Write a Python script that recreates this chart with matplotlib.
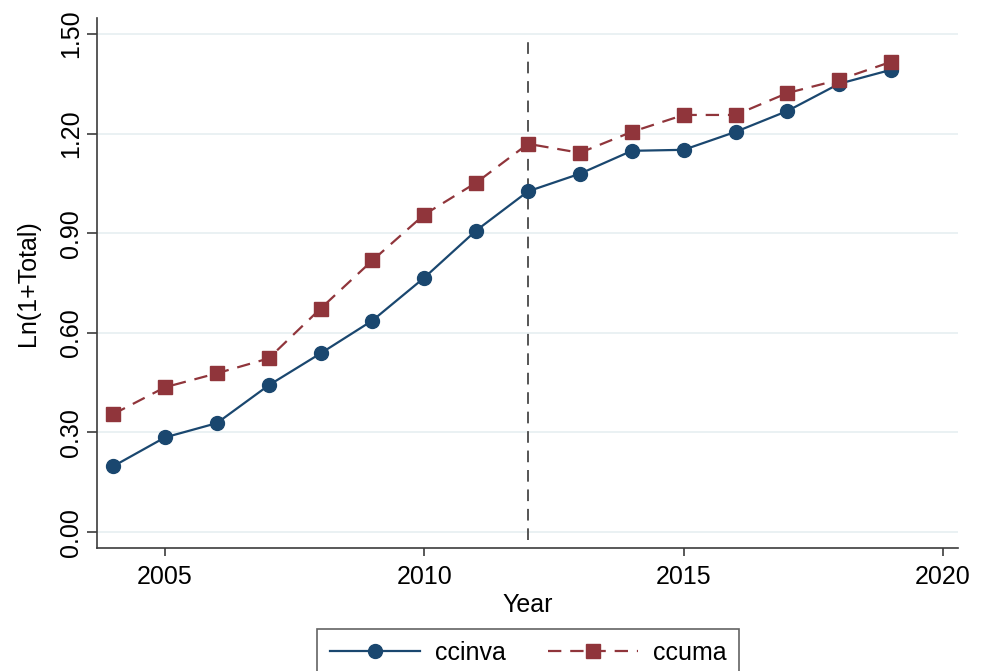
import numpy as np
import matplotlib
matplotlib.use("Agg")
import matplotlib.pyplot as plt

plt.rcParams["font.family"] = ["Liberation Sans", "DejaVu Sans"]

years = [2004, 2005, 2006, 2007, 2008, 2009, 2010, 2011,
         2012, 2013, 2014, 2015, 2016, 2017, 2018, 2019]
ccinva = [0.198, 0.285, 0.328, 0.442, 0.538, 0.637, 0.766, 0.908,
          1.026, 1.079, 1.148, 1.151, 1.205, 1.268, 1.350, 1.392]
ccuma = [0.355, 0.436, 0.478, 0.523, 0.673, 0.818, 0.956, 1.052,
         1.169, 1.142, 1.205, 1.256, 1.256, 1.322, 1.362, 1.416]
event_year = 2012
yticks = [0.0, 0.3, 0.6, 0.9, 1.2, 1.5]
xticks = [2005, 2010, 2015, 2020]

navy = "#1a476f"
maroon = "#90353b"
spine_col = "#3c3c3c"
fs = 18

fig = plt.figure(figsize=(9.85, 6.71), dpi=100)
ax = fig.add_axes([0.0985, 0.1833, 0.8741, 0.7899])

ax.plot(years, ccinva, "-o", color=navy, lw=1.6, ms=10, label="ccinva", zorder=3)
ax.plot(years, ccuma, "--s", color=maroon, lw=1.6, ms=10, dashes=(6, 4),
        label="ccuma", zorder=3)
ax.vlines(event_year, -0.024, 1.475, colors="#555555", linestyles=(0, (6, 4)),
          lw=1.4, zorder=2)

ax.set_xlim(2003.69, 2020.29)
ax.set_ylim(-0.048, 1.548)
ax.set_xticks(xticks)
ax.set_yticks(yticks)
ax.set_yticklabels([f"{v:.2f}" for v in yticks], rotation=90, va="center")
ax.grid(axis="y", color="#e6eff1", lw=1.2)
ax.set_axisbelow(True)

for s in ["top", "right"]:
    ax.spines[s].set_visible(False)
for s in ["left", "bottom"]:
    ax.spines[s].set_color(spine_col)
    ax.spines[s].set_linewidth(1.2)
ax.tick_params(axis="both", colors=spine_col, labelcolor="black",
               labelsize=fs, width=1.2)
ax.tick_params(axis="x", length=6, pad=6)
ax.tick_params(axis="y", length=7, pad=3)

ax.set_xlabel("Year", fontsize=fs, labelpad=3)
ax.set_ylabel("Ln(1+Total)", fontsize=fs, labelpad=14)

leg = fig.legend(loc="upper left", bbox_to_anchor=(0.322, 0.063), ncol=2,
                 fontsize=fs, frameon=True, fancybox=False, handlelength=3.6,
                 handletextpad=0.6, columnspacing=1.7, borderpad=0.5,
                 borderaxespad=0)
leg.get_frame().set_edgecolor(spine_col)
leg.get_frame().set_linewidth(1.2)

fig.savefig("out.png", dpi=100)
